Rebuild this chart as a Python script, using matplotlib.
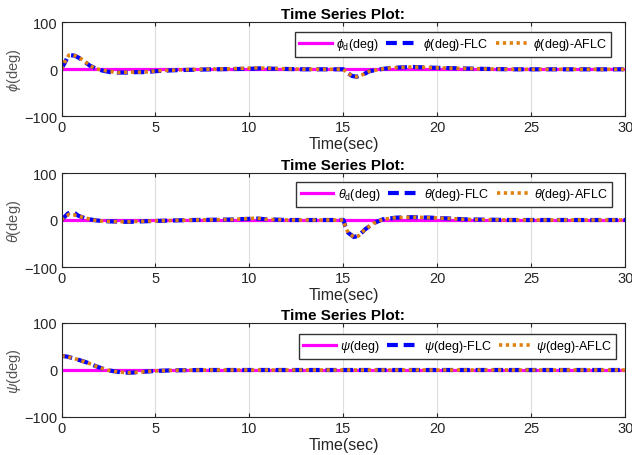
import matplotlib.pyplot as plt

plt.rcParams['font.family'] = ['Liberation Sans', 'DejaVu Sans']
plt.rcParams['mathtext.fontset'] = 'custom'
plt.rcParams['mathtext.rm'] = 'Liberation Sans'
plt.rcParams['mathtext.it'] = 'Liberation Sans:italic'

# desired (reference) signal
t_ref = [0, 30]
ref = [0, 0]

# phi response
t_phi_flc = [0, 0.15, 0.3, 0.5, 0.7, 0.9, 1.1, 1.3, 1.5, 1.8, 2.2, 2.6, 3.0, 3.5, 4.0, 4.5, 5.0, 5.5,
             6.0, 7.0, 8.0, 10.0, 10.5, 11.5, 13.0, 15.0, 15.2, 15.45, 15.7, 16.05, 16.4, 16.95, 17.5,
             18.7, 19.3, 20.1, 22.3, 24.0, 30.0]
phi_flc = [2, 12, 24, 30, 29, 25, 20, 14, 8, 2, -3, -6, -7, -7, -6, -6, -4, -3,
           -2, -1, 0, 1, 2, 1, 0, 0, -7, -14, -16, -11, -4, 0, 3,
           5, 4, 3, 1, 0, 0]
t_phi_aflc = [0, 0.15, 0.39, 0.6, 0.8, 1.05, 1.27, 1.5, 1.8, 2.2, 2.8, 3.1, 3.6, 4.4, 4.9, 5.5, 6.1,
              7.4, 9.0, 10.4, 11.4, 13.0, 15.0, 15.2, 15.45, 15.7, 16.05, 16.4, 16.95, 17.5,
              18.7, 19.3, 20.1, 22.3, 24.0, 30.0]
phi_aflc = [0, 14, 30, 30, 28, 22, 16, 8, 1.5, -2, -6, -7, -6, -6, -4, -2.5, -1.5,
            0, 1, 3, 1.5, 0, 0, -7, -14, -16, -11, -4, 0, 3,
            5, 4, 3, 1, 0, 0]

# theta response
t_th_flc = [0, 0.15, 0.35, 0.55, 0.7, 0.9, 1.1, 1.3, 1.5, 1.7, 2.1, 2.6, 3.6, 4.2, 5.0, 5.9, 7.0,
            9.0, 10.4, 10.9, 12.0, 15.0, 15.1, 15.25, 15.55, 15.8, 16.15, 16.6, 17.1, 17.8,
            18.7, 19.6, 20.5, 21.4, 22.6, 24.0, 30.0]
th_flc = [0, 6, 14, 18, 15, 9, 6, 3, 1.5, 0, -2, -3, -4, -3, -2, -1, 0,
          1, 3, 1.5, 0, 0, -13, -27, -36, -34, -20, -7, 1.5, 5,
          6, 5, 3.5, 1.5, 0.7, 0, 0]
t_th_aflc = [0, 0.15, 0.4, 0.65, 0.87, 1.1, 1.3, 1.7, 2.1, 2.6, 3.5, 4.0, 5.0, 5.9, 7.0,
             9.0, 10.4, 10.9, 12.0, 15.0, 15.1, 15.25, 15.55, 15.8, 16.15, 16.6, 17.1, 17.8,
             18.7, 19.6, 20.5, 21.4, 22.6, 24.0, 30.0]
th_aflc = [0, 6, 12, 11, 9, 6, 4, 0, -2, -3, -4, -3, -2, -1, 0,
           1, 4, 1.5, 0, 0, -13, -27, -36, -34, -20, -7, 1.5, 5,
           6, 5, 3.5, 1.5, 0.7, 0, 0]

# psi response
t_psi = [0, 0.3, 0.8, 1.35, 1.9, 2.4, 3.0, 3.6, 4.3, 5.0, 5.9, 7.4, 30.0]
psi_flc = [30, 28.5, 23, 16, 7, 0, -4, -6, -4, -2, -0.7, 0, 0]
psi_aflc = [30, 28.5, 23, 16, 7, 0, -4, -6, -4, -2, -0.7, 0, 0]

# legend top edge (pixels from top of figure) and right edge for each panel
panels = [
    (t_phi_flc, phi_flc, t_phi_aflc, phi_aflc, r'$\phi$(deg)',
     [r'$\phi_{\rm d}$(deg)', r'$\phi$(deg)-FLC', r'$\phi$(deg)-AFLC'], 33, 611),
    (t_th_flc, th_flc, t_th_aflc, th_aflc, r'$\theta$(deg)',
     [r'$\theta_{\rm d}$(deg)', r'$\theta$(deg)-FLC', r'$\theta$(deg)-AFLC'], 183, 612),
    (t_psi, psi_flc, t_psi, psi_aflc, r'$\psi$(deg)',
     [r'$\psi$(deg)', r'$\psi$(deg)-FLC', r'$\psi$(deg)-AFLC'], 335, 616),
]

fig = plt.figure(figsize=(6.32, 4.56), dpi=100)
tops = [23.3, 174, 324]
left, right = 61.5, 625.3
W, H = 632, 456

for (tf, yf, ta, ya, ylab, labels, ltop, lright), top in zip(panels, tops):
    ax = fig.add_axes([left / W, 1 - (top + 94) / H, (right - left) / W, 94 / H])
    ax.plot(t_ref, ref, color='#ff00ff', lw=2.3, label=labels[0])
    ax.plot(tf, yf, color='#0000ff', lw=3, dashes=(2.6, 1.4), label=labels[1])
    ax.plot(ta, ya, color='#e08010', lw=2.6, dashes=(0.9, 1.0), label=labels[2])
    ax.set_xlim(0, 30)
    ax.set_ylim(-100, 100)
    ax.set_xticks([0, 5, 10, 15, 20, 25, 30])
    ax.set_yticks([-100, 0, 100])
    ax.grid(True, color='#dddddd', lw=0.8)
    for s in ax.spines.values():
        s.set_color('#262626')
    ax.tick_params(direction='in', top=True, right=True, labelsize=10.5, length=3, pad=3,
                   colors='#262626')
    ax.set_title('Time Series Plot:', fontsize=11, fontweight='bold', pad=3)
    ax.set_xlabel('Time(sec)', fontsize=11.5, color='#262626', labelpad=1)
    ax.set_ylabel(ylab, fontsize=10.5, color='#555555', labelpad=1)
    ax.legend(loc='upper right',
              bbox_to_anchor=((lright - left) / (right - left), (top + 94 - ltop) / 94),
              ncol=3, fontsize=9.0, borderaxespad=0,
              fancybox=False, edgecolor='#333333', framealpha=1, handlelength=2.6,
              columnspacing=0.6, handletextpad=0.35, borderpad=0.35)

fig.savefig('out.png', dpi=100)
